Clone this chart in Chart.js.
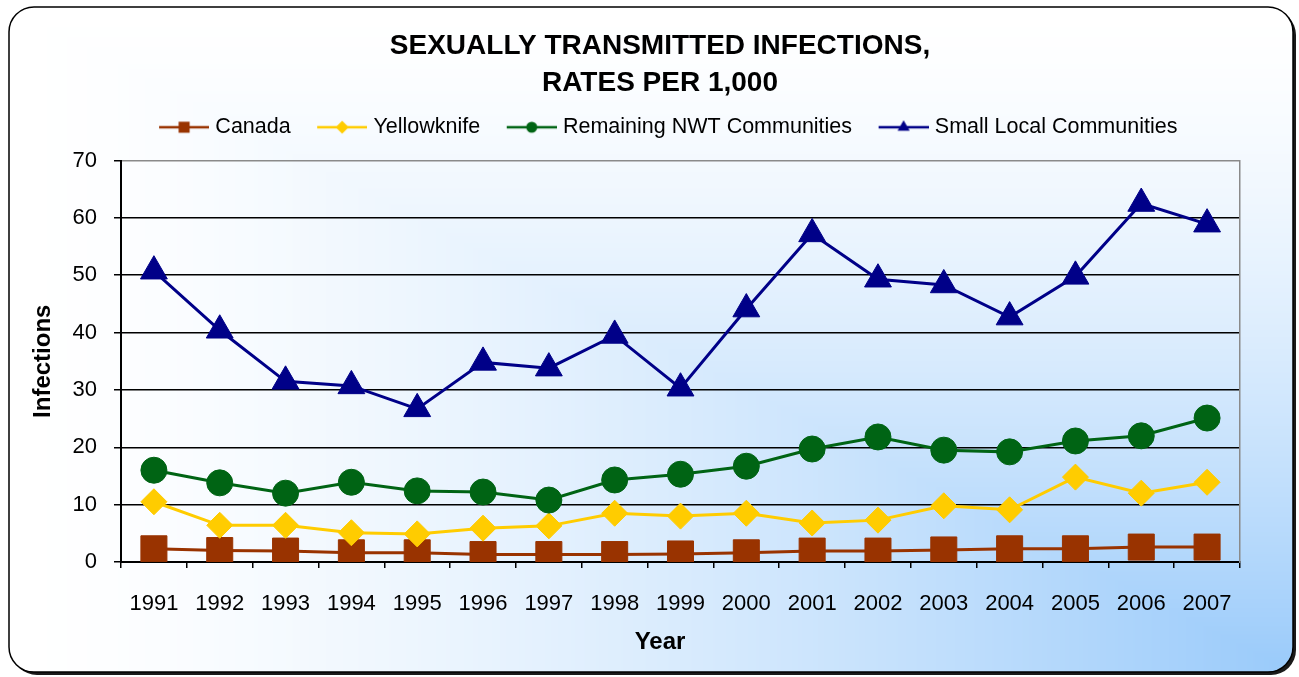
<!DOCTYPE html>
<html>
<head>
<meta charset="utf-8">
<script src="https://cdn.jsdelivr.net/npm/chart.js@4.4.0/dist/chart.umd.min.js"></script>
<style>
  html, body { margin: 0; padding: 0; background: #fff; }
</style>
</head>
<body>
<canvas id="chart" width="1299" height="677"></canvas>
<script>
// values (rates per 1,000)
const years = ['1991', '1992', '1993', '1994', '1995', '1996', '1997', '1998', '1999',
               '2000', '2001', '2002', '2003', '2004', '2005', '2006', '2007'];
const canada      = [2.3, 2.0, 1.9, 1.6, 1.6, 1.3, 1.3, 1.3, 1.4, 1.6, 1.9, 1.9, 2.1, 2.3, 2.3, 2.6, 2.6];
const yellowknife = [10.5, 6.4, 6.4, 5.1, 4.9, 5.9, 6.3, 8.5, 8.0, 8.5, 6.8, 7.3, 9.8, 9.1, 14.8, 12.0, 13.9];
const remainingNwt = [16.0, 13.8, 12.0, 13.9, 12.4, 12.2, 10.8, 14.3, 15.3, 16.7, 19.7, 21.8, 19.5, 19.2, 21.1, 22.0, 25.1];
const smallLocal  = [50.7, 40.4, 31.5, 30.7, 26.7, 34.8, 33.8, 39.5, 30.3, 44.1, 57.2, 49.3, 48.3, 42.7, 49.8, 62.5, 58.9];
const seriesNames = ['Canada', 'Yellowknife', 'Remaining NWT Communities', 'Small Local Communities'];
const yMin = 0, yMax = 70, yStep = 10;

const FONT = "'Liberation Sans', Arial, sans-serif";

// legend icon: short line with a small marker in the middle
function legendIcon(color, style, radius) {
  const c = document.createElement('canvas');
  c.width = 71; c.height = 26;
  const g = c.getContext('2d');
  g.strokeStyle = color;
  g.lineWidth = 2.5;
  g.beginPath(); g.moveTo(21, 13); g.lineTo(71, 13); g.stroke();
  g.fillStyle = color;
  Chart.helpers.drawPoint(g, {pointStyle: style, radius: radius, rotation: 0, borderWidth: 0}, 46, 13);
  return c;
}

// rounded frame with corner gradient + drop shadow
let bgImage = null;
function makeBackground(w, h) {
  const c = document.createElement('canvas');
  c.width = w; c.height = h;
  const g = c.getContext('2d');
  const img = g.createImageData(w, h);
  const end = [153, 202, 250];
  for (let y = 0; y < h; y++) {
    for (let x = 0; x < w; x++) {
      const t = Math.pow(Math.min(x / w, y / h), 1.5);
      const i = (y * w + x) * 4;
      img.data[i] = 255 + (end[0] - 255) * t;
      img.data[i + 1] = 255 + (end[1] - 255) * t;
      img.data[i + 2] = 255 + (end[2] - 255) * t;
      img.data[i + 3] = 255;
    }
  }
  g.putImageData(img, 0, 0);
  return c;
}

function roundPath(ctx, x, y, w, h, r) {
  ctx.beginPath();
  ctx.moveTo(x + r, y);
  ctx.lineTo(x + w - r, y);
  ctx.arcTo(x + w, y, x + w, y + r, r);
  ctx.lineTo(x + w, y + h - r);
  ctx.arcTo(x + w, y + h, x + w - r, y + h, r);
  ctx.lineTo(x + r, y + h);
  ctx.arcTo(x, y + h, x, y + h - r, r);
  ctx.lineTo(x, y + r);
  ctx.arcTo(x, y, x + r, y, r);
  ctx.closePath();
}

const framePlugin = {
  id: 'frame',
  beforeDraw(chart) {
    const ctx = chart.ctx;
    const fx = 9, fy = 7, fw = 1284, fh = 665, fr = 25;
    if (!bgImage) bgImage = makeBackground(fw, fh);
    ctx.save();
    ctx.fillStyle = '#1a1a1a';
    roundPath(ctx, fx + 3, fy + 3, fw, fh, fr);
    ctx.fill();
    roundPath(ctx, fx, fy, fw, fh, fr);
    ctx.save();
    ctx.clip();
    ctx.drawImage(bgImage, fx, fy);
    ctx.restore();
    roundPath(ctx, fx, fy, fw, fh, fr);
    ctx.lineWidth = 1.5;
    ctx.strokeStyle = '#000';
    ctx.stroke();
    ctx.restore();
  }
};

const colors = ['#993300', '#FFCC00', '#006414', '#000088'];
const styles = ['rect', 'rectRot', 'circle', 'triangle'];
const radii = [18.4, 13, 13, 15.5];
const legendRadii = [7.8, 6.5, 5.5, 7];
const icons = colors.map((c, i) => legendIcon(c, styles[i], legendRadii[i]));
const values = [canada, yellowknife, remainingNwt, smallLocal];

const datasets = values.map((v, i) => ({
  label: seriesNames[i],
  data: v,
  borderColor: colors[i],
  backgroundColor: colors[i],
  pointBackgroundColor: colors[i],
  pointBorderColor: colors[i],
  pointBorderWidth: 1,
  borderWidth: 3,
  pointStyle: styles[i],
  pointRadius: radii[i],
  pointHoverRadius: radii[i],
  tension: 0,
  order: 4 - i
}));

new Chart(document.getElementById('chart'), {
  type: 'line',
  data: { labels: years, datasets: datasets },
  options: {
    responsive: false,
    animation: false,
    layout: { padding: { top: 10, left: 22, right: 1, bottom: 16.6 } },
    plugins: {
      tooltip: { enabled: false },
      title: {
        display: true,
        text: ['SEXUALLY TRANSMITTED INFECTIONS,', 'RATES PER 1,000'],
        color: '#000',
        font: { family: FONT, size: 28, weight: 'bold', lineHeight: 37 / 28 },
        padding: { top: 17.5, bottom: 5 }
      },
      subtitle: {
        display: true,
        position: 'bottom',
        text: 'Year',
        color: '#000',
        font: { family: FONT, size: 24, weight: 'bold' },
        padding: { top: 10.2, bottom: 4 }
      },
      legend: {
        position: 'top',
        labels: {
          usePointStyle: true,
          pointStyleWidth: 62,
          padding: 10,
          color: '#000',
          font: { family: FONT, size: 21.5 },
          generateLabels: (chart) => chart.data.datasets.map((ds, i) => ({
            text: ds.label,
            pointStyle: icons[i],
            fillStyle: ds.borderColor,
            strokeStyle: ds.borderColor,
            lineWidth: 0,
            hidden: false,
            datasetIndex: i,
            fontColor: '#000'
          }))
        }
      }
    },
    scales: {
      x: {
        type: 'category',
        position: 'bottom',
        offset: true,
        grid: { display: true, drawOnChartArea: false, offset: true, tickLength: 6, color: '#000', tickColor: '#000', lineWidth: 1.5 },
        border: { display: true, color: '#000', width: 2 },
        ticks: { color: '#000', font: { family: FONT, size: 22 }, padding: 23, maxRotation: 0, autoSkip: false },
        afterFit: (s) => { s.height = 55.4; }
      },
      xTop: {
        type: 'category',
        position: 'top',
        grid: { display: false },
        border: { display: false },
        ticks: { display: false },
        afterFit: (s) => { s.height = 12.5; }
      },
      y: {
        type: 'linear',
        position: 'left',
        min: yMin,
        max: yMax,
        ticks: { stepSize: yStep, color: '#000', font: { family: FONT, size: 22 }, padding: 17 },
        grid: {
          color: (c) => (c.tick && c.tick.value === yMax) ? '#8a8a8a' : '#000',
          tickColor: '#000',
          lineWidth: 1.5,
          tickLength: 7
        },
        border: { display: true, color: '#000', width: 2 },
        title: {
          display: true,
          text: 'Infections',
          color: '#000',
          font: { family: FONT, size: 24, weight: 'bold' },
          padding: { top: 6.6, bottom: 0 }
        },
        afterFit: (s) => { s.width = 99; }
      },
      yRight: {
        type: 'linear',
        position: 'right',
        min: yMin,
        max: yMax,
        grid: { display: false },
        ticks: { display: false },
        border: { display: true, color: '#8a8a8a', width: 1.5 },
        afterFit: (s) => { s.width = 58; }
      }
    }
  },
  plugins: [framePlugin]
});
</script>
</body>
</html>
